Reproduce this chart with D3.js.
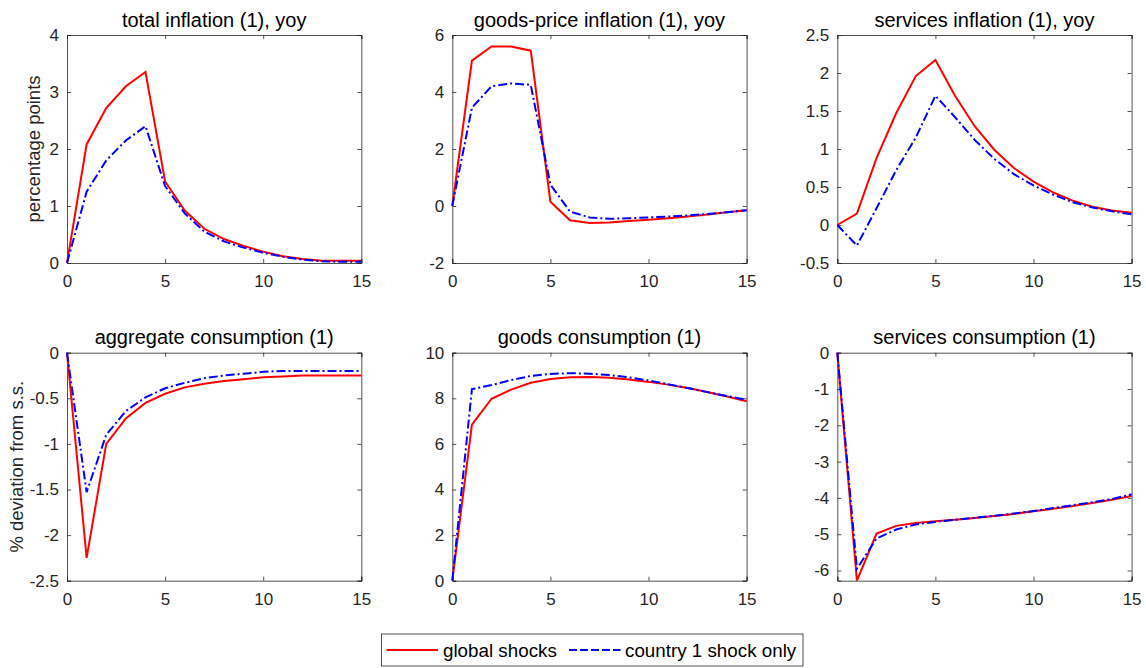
<!DOCTYPE html>
<html>
<head>
<meta charset="utf-8">
<script src="https://cdn.jsdelivr.net/npm/d3@7"></script>
<style>
  html, body { margin: 0; padding: 0; background: #fff; }
  svg { display: block; font-family: "Liberation Sans", Arial, sans-serif; }
</style>
</head>
<body>
<div id="chart"></div>
<script>
// horizon 0..15
const periods = d3.range(0, 16);

// total inflation (1), yoy
const totInflGlobal  = [0, 2.08, 2.72, 3.1, 3.35, 1.43, 0.92, 0.6, 0.42, 0.3, 0.2, 0.12, 0.07, 0.04, 0.04, 0.04];
const totInflCountry = [0, 1.25, 1.8, 2.15, 2.4, 1.35, 0.87, 0.55, 0.38, 0.27, 0.18, 0.11, 0.06, 0.03, 0.02, 0.02];

// goods-price inflation (1), yoy
const goodsInflGlobal  = [0, 5.1, 5.6, 5.6, 5.45, 0.15, -0.5, -0.6, -0.58, -0.53, -0.48, -0.43, -0.37, -0.3, -0.22, -0.15];
const goodsInflCountry = [0, 3.45, 4.2, 4.3, 4.25, 0.75, -0.2, -0.4, -0.45, -0.43, -0.4, -0.37, -0.33, -0.28, -0.22, -0.15];

// services inflation (1), yoy
const servInflGlobal  = [0, 0.15, 0.88, 1.47, 1.96, 2.17, 1.7, 1.3, 0.99, 0.75, 0.57, 0.43, 0.32, 0.24, 0.19, 0.16];
const servInflCountry = [0, -0.27, 0.22, 0.72, 1.15, 1.7, 1.42, 1.12, 0.87, 0.67, 0.52, 0.4, 0.3, 0.23, 0.18, 0.14];

// aggregate consumption (1)
const aggConsGlobal  = [0, -2.25, -1.0, -0.72, -0.55, -0.45, -0.38, -0.34, -0.31, -0.29, -0.27, -0.26, -0.25, -0.25, -0.25, -0.25];
const aggConsCountry = [0, -1.53, -0.9, -0.64, -0.49, -0.39, -0.33, -0.28, -0.25, -0.23, -0.21, -0.2, -0.2, -0.2, -0.2, -0.2];

// goods consumption (1)
const goodsConsGlobal  = [0, 6.85, 7.98, 8.38, 8.68, 8.85, 8.92, 8.93, 8.9, 8.82, 8.72, 8.6, 8.45, 8.28, 8.08, 7.87];
const goodsConsCountry = [0, 8.4, 8.58, 8.8, 8.98, 9.07, 9.1, 9.08, 9.02, 8.92, 8.78, 8.62, 8.45, 8.27, 8.1, 7.93];

// services consumption (1)
const servConsGlobal  = [0, -6.28, -4.98, -4.77, -4.69, -4.64, -4.6, -4.55, -4.5, -4.44, -4.37, -4.3, -4.22, -4.14, -4.05, -3.95];
const servConsCountry = [0, -5.95, -5.12, -4.87, -4.73, -4.66, -4.6, -4.55, -4.49, -4.43, -4.36, -4.28, -4.2, -4.12, -4.03, -3.9];

const xTicks = [0, 5, 10, 15];
const seriesNames = ["global shocks", "country 1 shock only"];

const panels = [
  { title: "total inflation (1), yoy", g: totInflGlobal, c: totInflCountry, y: [0, 4], ticks: [0, 1, 2, 3, 4], ylab: "percentage points" },
  { title: "goods-price inflation (1), yoy", g: goodsInflGlobal, c: goodsInflCountry, y: [-2, 6], ticks: [-2, 0, 2, 4, 6] },
  { title: "services inflation (1), yoy", g: servInflGlobal, c: servInflCountry, y: [-0.5, 2.5], ticks: [-0.5, 0, 0.5, 1, 1.5, 2, 2.5] },
  { title: "aggregate consumption (1)", g: aggConsGlobal, c: aggConsCountry, y: [-2.5, 0], ticks: [-2.5, -2, -1.5, -1, -0.5, 0], ylab: "% deviation from s.s." },
  { title: "goods consumption (1)", g: goodsConsGlobal, c: goodsConsCountry, y: [0, 10], ticks: [0, 2, 4, 6, 8, 10] },
  { title: "services consumption (1)", g: servConsGlobal, c: servConsCountry, y: [-6.28, 0], ticks: [-6, -5, -4, -3, -2, -1, 0] }
];

const W = 1146, H = 668;
const lefts = [67, 452.3, 837.3];
const pw = 294.3;
const tops = [35, 352.7];
const ph = 228;

const RED = "#ff0000", BLUE = "#0000ff", AX = "#262626";
const dashDot = "9,3,2,3";
const fmt = d => String(d); // plain hyphen minus, like MATLAB

const svg = d3.select("#chart").append("svg")
  .attr("width", W).attr("height", H);

panels.forEach((p, i) => {
  const col = i % 3, row = Math.floor(i / 3);
  const g = svg.append("g").attr("transform", `translate(${lefts[col]},${tops[row]})`);

  const x = d3.scaleLinear().domain([0, 15]).range([0, pw]);
  const y = d3.scaleLinear().domain(p.y).range([ph, 0]);

  // axes: inward ticks, mirrored on top / right
  g.append("g").attr("transform", `translate(0,${ph})`)
    .call(d3.axisBottom(x).tickValues(xTicks).tickSize(-4).tickPadding(12).tickFormat(fmt));
  g.append("g")
    .call(d3.axisTop(x).tickValues(xTicks).tickSize(-4).tickFormat(""));
  g.append("g")
    .call(d3.axisLeft(y).tickValues(p.ticks).tickSize(-4).tickPadding(8).tickFormat(fmt));
  g.append("g").attr("transform", `translate(${pw},0)`)
    .call(d3.axisRight(y).tickValues(p.ticks).tickSize(-4).tickFormat(""));
  g.selectAll(".domain, .tick line").attr("stroke", AX).attr("stroke-width", 0.8);
  g.selectAll(".tick text")
    .attr("font-family", "Liberation Sans, Arial, sans-serif")
    .attr("font-size", 17).attr("fill", AX);

  const line = d3.line().x((d, k) => x(periods[k])).y(d => y(d));

  g.append("path").datum(p.g)
    .attr("fill", "none").attr("stroke", RED).attr("stroke-width", 2)
    .attr("d", line);
  g.append("path").datum(p.c)
    .attr("fill", "none").attr("stroke", BLUE).attr("stroke-width", 2)
    .attr("stroke-dasharray", dashDot)
    .attr("d", line);

  g.append("text")
    .attr("x", pw / 2).attr("y", -8.5)
    .attr("text-anchor", "middle")
    .attr("font-size", 20).attr("fill", "#000")
    .text(p.title);

  if (p.ylab) {
    g.append("text")
      .attr("transform", `translate(${row === 0 ? -27 : -44},${ph / 2}) rotate(-90)`)
      .attr("text-anchor", "middle")
      .attr("font-size", 18.5).attr("fill", AX)
      .text(p.ylab);
  }
});

// legend
const lg = svg.append("g").attr("transform", "translate(381.5,634)");
lg.append("rect").attr("width", 421.5).attr("height", 32)
  .attr("fill", "#fff").attr("stroke", AX).attr("stroke-width", 0.8);
const items = [
  { name: seriesNames[0], color: RED, dash: null, x0: 5, tx: 61.5 },
  { name: seriesNames[1], color: BLUE, dash: "8,3", x0: 187.5, tx: 243.5 }
];
items.forEach(it => {
  lg.append("line").attr("x1", it.x0).attr("x2", it.x0 + 51.5)
    .attr("y1", 16).attr("y2", 16)
    .attr("stroke", it.color).attr("stroke-width", 2)
    .attr("stroke-dasharray", it.dash);
  lg.append("text").attr("x", it.tx).attr("y", 22.5)
    .attr("font-size", 18.8).attr("fill", "#000")
    .text(it.name);
});
</script>
</body>
</html>
